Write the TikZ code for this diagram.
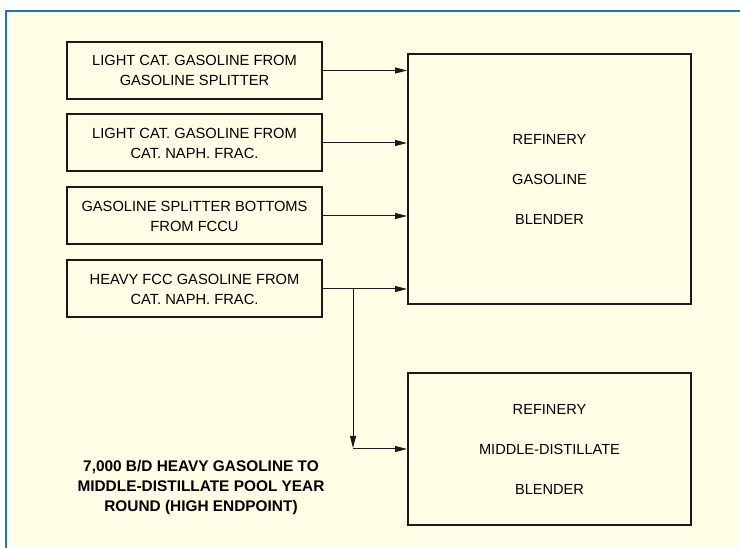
\documentclass[tikz,border=0pt]{standalone}
\usepackage{fontspec}
\setmainfont{Liberation Sans}
\usepackage{tikz}
\usetikzlibrary{arrows.meta,positioning,calc}
\definecolor{blendcream}{HTML}{FEFEE6}
\definecolor{blendblue}{HTML}{1B75BC}
\definecolor{blendink}{HTML}{1A1A1A}

\tikzset{
  feedbox/.style={draw=blendink,line width=2pt,minimum width=255pt,minimum height=57pt,
    align=center,inner sep=0pt,font=\fontsize{14.7}{20}\selectfont},
  unitbox/.style={draw=blendink,line width=2pt,minimum width=283pt,
    align=center,inner sep=0pt,font=\fontsize{14.6}{40}\selectfont},
  flow/.style={draw=blendink,line width=1pt,-{Triangle[length=12pt,width=6pt]}}
}

\begin{document}
\begin{tikzpicture}[x=1pt,y=-1pt]
  % frame
  \useasboundingbox (0,0) rectangle (740,548);
  \fill[white] (0,0) rectangle (740,548);
  \fill[blendcream] (6,11) rectangle (740,548);
  \draw[blendblue,line width=2.5pt] (6,548) -- (6,11) -- (740,11);
  % feed streams
  \node[feedbox] (src1) at (194.5,70.5) {LIGHT CAT. GASOLINE FROM\\GASOLINE SPLITTER};
  \node[feedbox] (src2) at (194.5,143) {LIGHT CAT. GASOLINE FROM\\CAT. NAPH. FRAC.};
  \node[feedbox] (src3) at (194.5,216) {GASOLINE SPLITTER BOTTOMS\\FROM FCCU};
  \node[feedbox] (src4) at (194.5,289) {HEAVY FCC GASOLINE FROM\\CAT. NAPH. FRAC.};
  % blenders
  \node[unitbox,minimum height=250pt] (gasblend) at (549.5,179) {REFINERY\\GASOLINE\\BLENDER};
  \node[unitbox,minimum height=152pt] (mdblend) at (549.5,449) {REFINERY\\MIDDLE-DISTILLATE\\BLENDER};
  % connectors
  \foreach \s in {src1,src2,src3,src4}{
    \draw[flow] (\s.east) -- (\s.east -| gasblend.west);
  }
  \coordinate (split) at ($(src4.east)+(30,0)$);
  \coordinate (turn) at (split |- mdblend.west);
  \draw[flow] (split) -- ($(turn)+(0,-1)$);
  \draw[flow] (turn) -- (mdblend.west);
  % note
  \node[align=center,font=\fontsize{15.4}{20}\selectfont\bfseries] (note) at (201,488)
    {7,000 B/D HEAVY GASOLINE TO\\MIDDLE-DISTILLATE POOL YEAR\\ROUND (HIGH ENDPOINT)};
\end{tikzpicture}
\end{document}
